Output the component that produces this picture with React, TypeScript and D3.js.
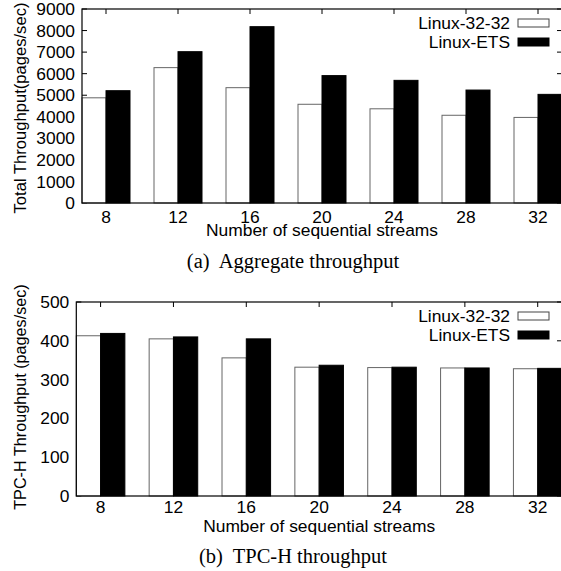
import React, { useEffect, useRef } from 'react';
import * as d3 from 'd3';

// x categories: number of sequential streams
const streams = ['8', '12', '16', '20', '24', '28', '32'];

// (a) aggregate throughput, pages/sec
const aggLinux3232 = [4880, 6280, 5350, 4580, 4370, 4070, 3970];
const aggLinuxETS = [5210, 7020, 8180, 5910, 5690, 5240, 5040];
const aggTicks = [0, 1000, 2000, 3000, 4000, 5000, 6000, 7000, 8000, 9000];

// (b) TPC-H throughput, pages/sec
const tpchLinux3232 = [413, 405, 356, 332, 331, 330, 328];
const tpchLinuxETS = [419, 410, 405, 337, 332, 330, 329];
const tpchTicks = [0, 100, 200, 300, 400, 500];

const seriesNames = ['Linux-32-32', 'Linux-ETS'];

const SANS = '"Liberation Sans", Arial, Helvetica, sans-serif';
const SERIF = '"Liberation Serif", "Times New Roman", serif';

function drawPanel(svg, opts) {
  const { left, right, top, bottom, yMax, ticks, white, black, yTitle, yTitleSize,
    yTitleCenter, xLabelY, xTitleY, captionY, caption } = opts;

  const x = d3.scaleLinear().domain([-1 / 3, streams.length - 1 + 1 / 3]).range([left, right]);
  const y = d3.scaleLinear().domain([0, yMax]).range([bottom, top]);
  const bw = x(1 / 3) - x(0);
  const g = svg.append('g');
  const tl = 5;

  // ticks (all four sides, inward)
  g.selectAll('.yt').data(ticks).enter().append('path')
    .attr('d', (d) => `M${left},${y(d)}h${tl}M${right},${y(d)}h${-tl}`)
    .attr('stroke', '#000').attr('stroke-width', 1);
  g.selectAll('.xt').data(streams).enter().append('path')
    .attr('d', (d, i) => `M${x(i)},${top}v${tl}M${x(i)},${bottom}v${-tl}`)
    .attr('stroke', '#000').attr('stroke-width', 1);

  // bars
  g.selectAll('.wb').data(white).enter().append('rect')
    .attr('x', (d, i) => x(i) - bw)
    .attr('y', (d) => y(d))
    .attr('width', bw)
    .attr('height', (d) => bottom - y(d))
    .attr('fill', '#fff').attr('stroke', '#666').attr('stroke-width', 1);
  g.selectAll('.bb').data(black).enter().append('rect')
    .attr('x', (d, i) => x(i))
    .attr('y', (d) => y(d))
    .attr('width', bw)
    .attr('height', (d) => bottom - y(d))
    .attr('fill', '#000').attr('stroke', '#000').attr('stroke-width', 1);

  // frame
  g.append('rect')
    .attr('x', left).attr('y', top)
    .attr('width', right - left).attr('height', bottom - top)
    .attr('fill', 'none').attr('stroke', '#000').attr('stroke-width', 1.2);

  // tick labels
  g.selectAll('.yl').data(ticks).enter().append('text')
    .attr('x', left - 7).attr('y', (d) => y(d)).attr('dy', '0.35em')
    .attr('text-anchor', 'end')
    .style('font-family', SANS).style('font-size', '17.4px')
    .text((d) => d);
  g.selectAll('.xl').data(streams).enter().append('text')
    .attr('x', (d, i) => x(i)).attr('y', xLabelY)
    .attr('text-anchor', 'middle')
    .style('font-family', SANS).style('font-size', '17.4px')
    .text((d) => d);

  // axis titles
  g.append('text')
    .attr('transform', `translate(26,${yTitleCenter}) rotate(-90)`)
    .attr('text-anchor', 'middle')
    .style('font-family', SANS).style('font-size', yTitleSize)
    .text(yTitle);
  g.append('text')
    .attr('x', (left + right) / 2).attr('y', xTitleY)
    .attr('text-anchor', 'middle')
    .style('font-family', SANS).style('font-size', '17.4px')
    .text('Number of sequential streams');

  // legend
  const legend = g.append('g');
  seriesNames.forEach((name, i) => {
    const cy = top + 14 + i * 19;
    legend.append('text')
      .attr('x', 510).attr('y', cy + 6)
      .attr('text-anchor', 'end')
      .style('font-family', SANS).style('font-size', '17.4px')
      .text(name);
    legend.append('rect')
      .attr('x', 518).attr('y', cy - 4)
      .attr('width', 31).attr('height', 8)
      .attr('fill', i === 0 ? '#fff' : '#000')
      .attr('stroke', i === 0 ? '#444' : '#000').attr('stroke-width', 1);
  });

  // caption
  g.append('text')
    .attr('x', 293).attr('y', captionY)
    .attr('text-anchor', 'middle')
    .style('font-family', SERIF).style('font-size', '20.5px')
    .style('white-space', 'pre')
    .text(caption);
}

export default function App() {
  const ref = useRef(null);

  useEffect(() => {
    const svg = d3.select(ref.current);
    svg.selectAll('*').remove();

    drawPanel(svg, {
      left: 82, right: 562, top: 9, bottom: 203,
      yMax: 9000, ticks: aggTicks,
      white: aggLinux3232, black: aggLinuxETS,
      yTitle: 'Total Throughput(pages/sec)', yTitleSize: '16.6px', yTitleCenter: 108,
      xLabelY: 223, xTitleY: 236, captionY: 268,
      caption: '(a)  Aggregate throughput',
    });

    drawPanel(svg, {
      left: 76.3, right: 562, top: 302, bottom: 496,
      yMax: 500, ticks: tpchTicks,
      white: tpchLinux3232, black: tpchLinuxETS,
      yTitle: 'TPC-H Throughput (pages/sec)', yTitleSize: '16.2px', yTitleCenter: 397,
      xLabelY: 513, xTitleY: 531.5, captionY: 563,
      caption: '(b)  TPC-H throughput',
    });
  }, []);

  return (
    <svg
      ref={ref}
      width={561}
      height={571}
      style={{ position: 'absolute', left: 0, top: 0, background: '#fff' }}
    />
  );
}
